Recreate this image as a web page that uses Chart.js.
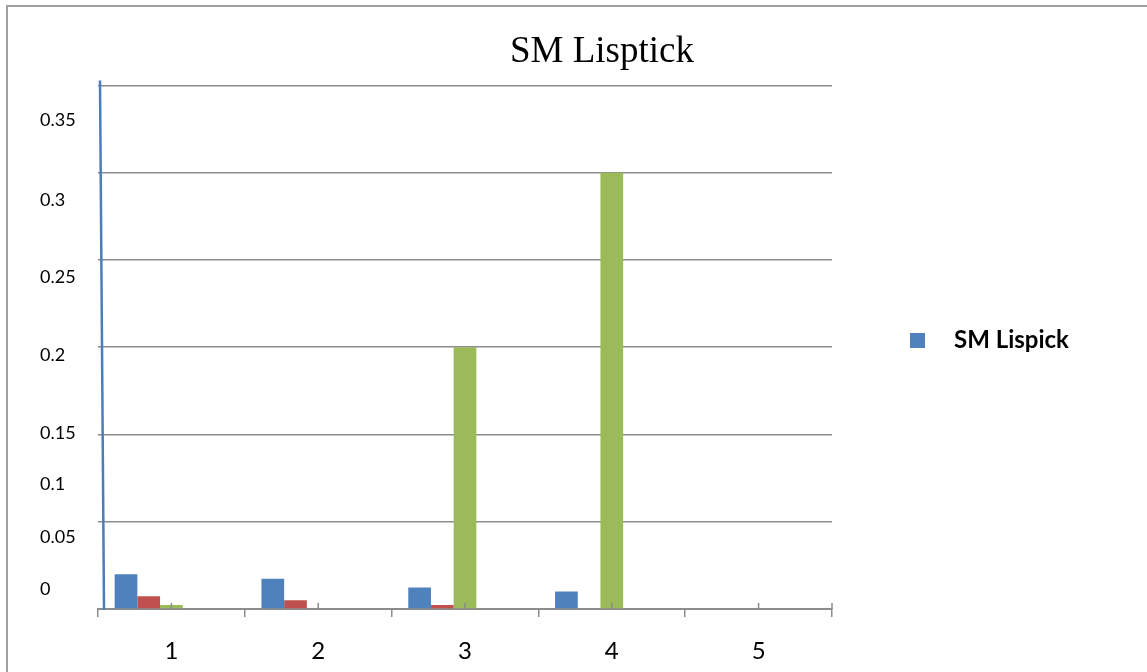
<!DOCTYPE html>
<html lang="en">
<head>
  <meta charset="UTF-8" />
  <title>SM Lisptick</title>
  <script src="https://cdn.jsdelivr.net/npm/chart.js"></script>
  <style>
    body {
      margin: 0;
      background: #fff;
    }
    .wrap {
      position: relative;
      width: 1147px;
      height: 672px;
      overflow: hidden;
    }
    /* thin gray frame, only top and left edges are visible */
    .frame {
      position: absolute;
      left: 6px;
      top: 5px;
      right: -10px;
      bottom: -10px;
      border-top: 2px solid #a0a0a0;
      border-left: 2px solid #a0a0a0;
    }
    #chart {
      position: absolute;
      left: 0;
      top: 0;
    }
  </style>
</head>
<body>
  <div class="wrap">
    <div class="frame"></div>
    <canvas id="chart" width="1164" height="672"></canvas>
  </div>

  <script>
    // data
    const categories = ['1', '2', '3', '4', '5'];
    const seriesNames = ['SM Lispick', 'Series 2', 'Series 3', 'Series 4', 'Series 5'];
    const blueValues = [0.0199, 0.0174, 0.0123, 0.0100, null];
    const redValues = [0.0073, 0.0050, 0.0023, null, null];
    const greenValues = [0.0023, null, 0.15, 0.25, null];
    const purpleValues = [null, null, null, null, null];
    const aquaValues = [null, null, null, null, null];

    // the y labels in the source do not sit on the gridlines
    const yLabels = ['0.35', '0.3', '0.25', '0.2', '0.15', '0.1', '0.05', '0'];
    const yLabelAt = [0.2802, 0.2344, 0.1904, 0.1457, 0.1010, 0.0713, 0.0409, 0.0112];

    const colors = ['#4F81BD', '#C0504D', '#9BBB59', '#8064A2', '#4BACC6'];
    const gridColor = '#8c8c8c';
    const legendWidth = 332;

    // legend marker: square on the left of a wider transparent box
    const swatch = document.createElement('canvas');
    swatch.width = 32;
    swatch.height = 15;
    const sctx = swatch.getContext('2d');
    sctx.fillStyle = colors[0];
    sctx.fillRect(0, 0, 15, 15);

    const seriesValues = [blueValues, redValues, greenValues, purpleValues, aquaValues];

    const axisDecor = {
      id: 'axisDecor',
      beforeInit(chart) {
        const fit = chart.legend.fit;
        chart.legend.fit = function () {
          fit.call(this);
          this.width = legendWidth;
        };
      },
      afterDraw(chart) {
        const { ctx, chartArea: a, scales: { x } } = chart;
        ctx.save();
        // small upward tick marks at category centres
        ctx.strokeStyle = gridColor;
        ctx.lineWidth = 1.5;
        ctx.beginPath();
        categories.forEach((c, i) => {
          const px = x.getPixelForTick(i);
          ctx.moveTo(px, a.bottom);
          ctx.lineTo(px, a.bottom - 6);
        });
        ctx.moveTo(a.right, a.bottom);
        ctx.lineTo(a.right, a.bottom - 6);
        ctx.stroke();
        // blue value axis line (slightly slanted in the source)
        ctx.strokeStyle = '#4a7ebb';
        ctx.lineWidth = 2.5;
        ctx.beginPath();
        ctx.moveTo(a.left + 2, a.top - 5);
        ctx.lineTo(a.left + 6, a.bottom + 1);
        ctx.stroke();
        ctx.restore();
      }
    };

    const ctx = document.getElementById('chart').getContext('2d');
    const chart = new Chart(ctx, {
      type: 'bar',
      data: {
        labels: categories,
        datasets: seriesValues.map((vals, i) => ({
          label: seriesNames[i],
          data: vals,
          backgroundColor: colors[i],
          borderWidth: 0,
          categoryPercentage: 0.773,
          barPercentage: 1
        }))
      },
      options: {
        responsive: false,
        animation: false,
        layout: {
          padding: { left: 40, top: 9, right: 0, bottom: 0 }
        },
        scales: {
          x: {
            offset: true,
            grid: {
              offset: true,
              drawOnChartArea: false,
              color: gridColor,
              lineWidth: 1.5,
              tickLength: 8
            },
            border: { color: gridColor, width: 2 },
            ticks: {
              color: '#000',
              font: { family: 'Lato', size: 24 },
              padding: 20
            },
            afterFit(scale) {
              scale.height = 63;
            }
          },
          y: {
            min: 0,
            max: 0.3,
            grid: {
              color: gridColor,
              lineWidth: 1.5,
              drawTicks: false
            },
            border: { display: false },
            ticks: { display: false, stepSize: 0.05 },
            afterFit(scale) {
              scale.width = 0;
            }
          },
          yLab: {
            type: 'linear',
            position: 'left',
            min: 0,
            max: 0.3,
            grid: { display: false },
            border: { display: false },
            afterBuildTicks(scale) {
              scale.ticks = yLabelAt.map(v => ({ value: v }));
            },
            ticks: {
              autoSkip: false,
              crossAlign: 'far',
              color: '#000',
              font: { family: 'Lato', size: 18 },
              callback: (v, i) => yLabels[i]
            },
            afterFit(scale) {
              scale.width = 58;
            }
          }
        },
        plugins: {
          title: {
            display: true,
            text: 'SM Lisptick',
            color: '#000',
            font: { family: 'Liberation Serif', size: 37, weight: 'normal' },
            padding: { top: 21, bottom: 11 }
          },
          legend: {
            position: 'right',
            labels: {
              filter: item => item.datasetIndex === 0,
              usePointStyle: true,
              pointStyle: swatch,
              pointStyleWidth: 32,
              padding: 78,
              color: '#000',
              font: { family: 'Lato', size: 24, weight: 'bold' }
            }
          },
          tooltip: { enabled: false }
        }
      },
      plugins: [axisDecor]
    });
  </script>
</body>
</html>
